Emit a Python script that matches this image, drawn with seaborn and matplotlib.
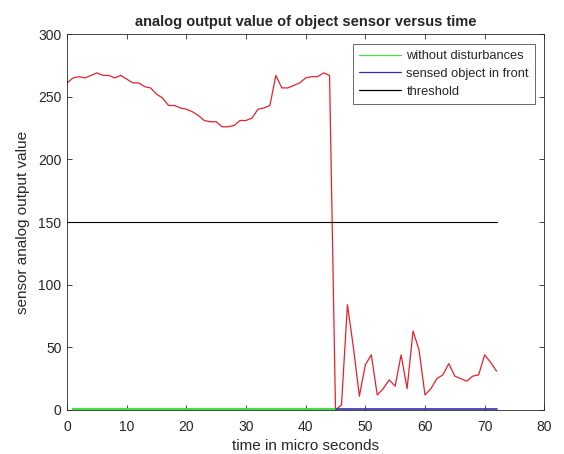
import numpy as np
import pandas as pd
import matplotlib
matplotlib.use("Agg")
import matplotlib.pyplot as plt
import seaborn as sns

# ── data
time_red = list(range(0, 73))
sensor_red = [261, 265, 266, 265, 267, 269, 267, 267, 265, 267,
              264, 261, 261, 258, 257, 252, 249, 243, 243, 241,
              240, 238, 235, 231, 230, 230, 226, 226, 227, 231,
              231, 233, 240, 241, 243, 267, 257, 257, 259, 261,
              265, 266, 266, 269, 267, 0, 4, 84, 50, 11,
              36, 44, 12, 17, 24, 19, 44, 17, 63, 48,
              12, 17, 25, 28, 37, 27, 25, 23, 27, 28,
              44, 38, 31]

time_free = [1, 45]
value_free = [1, 1]
time_object = [45, 72]
value_object = [1, 1]
time_threshold = [0, 72]
value_threshold = [150, 150]

sns.set_style("white")
plt.rcParams["font.family"] = ["Liberation Sans", "DejaVu Sans"]

fig = plt.figure(figsize=(5.64, 4.54), dpi=100)
ax = fig.add_axes([0.119, 0.097, 0.846, 0.828])

df_red = pd.DataFrame({"t": time_red, "v": sensor_red})
sns.lineplot(data=df_red, x="t", y="v", ax=ax, color="#e8202a", linewidth=0.9)

sns.lineplot(x=time_free, y=value_free, ax=ax, color="#44dd44", linewidth=1.6,
             label="without disturbances")
sns.lineplot(x=time_object, y=value_object, ax=ax, color="#3030b0", linewidth=1.2,
             label="sensed object in front")
sns.lineplot(x=time_threshold, y=value_threshold, ax=ax, color="black", linewidth=0.8,
             label="threshold")

ax.set_xlim(0, 80)
ax.set_ylim(0, 300)
ax.set_xticks(range(0, 81, 10))
ax.set_yticks(range(0, 301, 50))
ax.tick_params(direction="in", length=3.5, width=0.6, bottom=True, left=True,
               top=True, right=True, labelsize=10, colors="#262626", pad=4)
ax.tick_params(axis="x", pad=7)
for s in ax.spines.values():
    s.set_color("#262626")
    s.set_linewidth(0.6)

ax.set_xlabel("time in micro seconds", fontsize=11, labelpad=4, color="#262626")
ax.set_ylabel("sensor analog output value", fontsize=11, labelpad=6, color="#262626")
ax.set_title("analog output value of object sensor versus time",
             fontsize=10.5, fontweight="bold", pad=6)

leg = ax.legend(loc="upper right", bbox_to_anchor=(0.98, 0.973), fontsize=9.3,
                frameon=True, fancybox=False, edgecolor="#262626",
                handlelength=3.3, handletextpad=0.4, borderpad=0.45,
                labelspacing=0.45, borderaxespad=0.0)
leg.get_frame().set_linewidth(0.6)
for line in leg.get_lines():
    line.set_linewidth(0.9)

fig.savefig("out.png", dpi=100)
plt.close(fig)
